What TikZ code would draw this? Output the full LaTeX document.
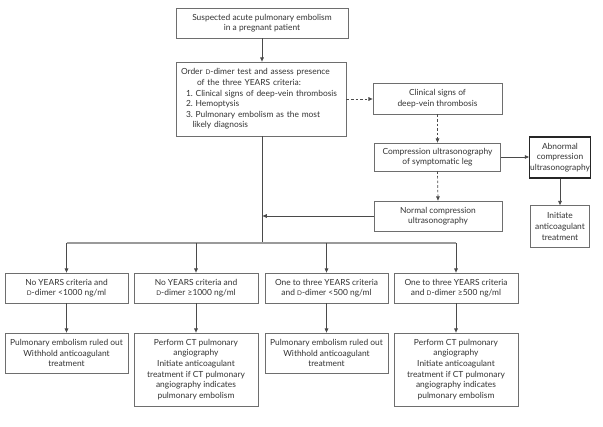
\documentclass[tikz,border=0pt]{standalone}
\usepackage{fontspec}
\setmainfont{Lato}
\usetikzlibrary{arrows.meta}
\definecolor{boxc}{HTML}{6E6E6E}
\definecolor{linec}{HTML}{4A4A4A}
\definecolor{branchc}{HTML}{9A9A9A}
\definecolor{txt}{HTML}{333333}
\newcommand\Dsc{{\fontsize{6.4}{6.4}\selectfont D}}
\newcommand\fs{\fontsize{8.4}{10.6}\selectfont}
\tikzset{
  box/.style={draw=boxc, line width=0.75pt, fill=white, align=center, inner sep=0pt, font=\fs, text=txt},
  conn/.style={draw=linec, line width=0.7pt, -{Triangle[length=4.2pt,width=3.6pt]}},
  dconn/.style={conn, dash pattern=on 2.6pt off 2pt},
  plain/.style={draw=linec, line width=0.7pt},
  branch/.style={draw=branchc, line width=1.6pt},
}
\begin{document}
\begin{tikzpicture}[x=1pt,y=-1pt]
\useasboundingbox (0,0) rectangle (603,427);
\fill[white] (0,0) rectangle (603,427);

\node[box, minimum width=172pt, minimum height=30pt] (top) at (262,23)
  {Suspected acute pulmonary embolism\\in a pregnant patient};
\node[box, minimum width=170pt, minimum height=74pt, text width=160pt, align=left, inner xsep=5pt] (order) at (261,99)
  {Order \Dsc-dimer test and assess presence\\
   \hspace*{16pt}of the three YEARS criteria:\\
   \hspace*{5pt}1.\ Clinical signs of deep-vein thrombosis\\
   \hspace*{5pt}2.\ Hemoptysis\\
   \hspace*{5pt}3.\ Pulmonary embolism as the most\\
   \hspace*{11.5pt}likely diagnosis};
\node[box, minimum width=129pt, minimum height=31pt] (clin) at (437.5,98.5)
  {Clinical signs of\\deep-vein thrombosis};
\node[box, minimum width=126pt, minimum height=28pt] (cus) at (437.5,157)
  {Compression ultrasonography\\of symptomatic leg};
\node[box, draw=black!85, line width=1.05pt, minimum width=61pt, minimum height=41pt] (abn) at (560,157.5)
  {Abnormal\\compression\\ultrasonography};
\node[box, minimum width=59pt, minimum height=42pt] (init) at (560,226.5)
  {Initiate\\anticoagulant\\treatment};
\node[box, minimum width=128pt, minimum height=30pt] (normal) at (438,216)
  {Normal compression\\ultrasonography};

\node[box, minimum width=123pt, minimum height=30pt] (b1) at (66.5,288)
  {No YEARS criteria and\\\Dsc-dimer <1000 ng/ml};
\node[box, minimum width=124pt, minimum height=30pt] (b2) at (196,288)
  {No YEARS criteria and\\\Dsc-dimer ≥1000 ng/ml};
\node[box, minimum width=123pt, minimum height=30pt] (b3) at (326.5,288)
  {One to three YEARS criteria\\and \Dsc-dimer <500 ng/ml};
\node[box, minimum width=124pt, minimum height=30pt] (b4) at (456,288)
  {One to three YEARS criteria\\and \Dsc-dimer ≥500 ng/ml};

\node[box, minimum width=123pt, minimum height=40pt] (r1) at (66.5,353)
  {Pulmonary embolism ruled out\\Withhold anticoagulant\\treatment};
\node[box, minimum width=124pt, minimum height=73pt] (r2) at (196,369.5)
  {Perform CT pulmonary\\angiography\\Initiate anticoagulant\\treatment if CT pulmonary\\angiography indicates\\pulmonary embolism};
\node[box, minimum width=123pt, minimum height=40pt] (r3) at (326.5,353)
  {Pulmonary embolism ruled out\\Withhold anticoagulant\\treatment};
\node[box, minimum width=124pt, minimum height=73pt] (r4) at (456,369.5)
  {Perform CT pulmonary\\angiography\\Initiate anticoagulant\\treatment if CT pulmonary\\angiography indicates\\pulmonary embolism};

\coordinate (j) at (262,243);
\coordinate (jl) at (66.5,243);
\coordinate (jr) at (456,243);

\draw[conn] (top.south) -- (top.south |- order.north);
\draw[dconn] (order.east) -- (order.east -| clin.west);
\draw[dconn] (clin.south) -- (cus.north);
\draw[conn] (cus.east) -- (cus.east -| abn.west);
\draw[conn] (abn.south) -- (init.north);
\draw[dconn] (cus.south) -- (normal.north);
\draw[conn] (normal.west) -- ([xshift=0.6pt]j |- normal.west);
\draw[plain] (order.south -| j) -- (j);
\draw[branch] (jl) -- (jr);
\foreach \b in {b1,b2,b3,b4} {
  \draw[conn] (\b.north |- j) -- (\b.north);
}
\foreach \b/\r in {b1/r1,b2/r2,b3/r3,b4/r4} {
  \draw[conn] (\b.south) -- (\r.north);
}
\end{tikzpicture}
\end{document}
